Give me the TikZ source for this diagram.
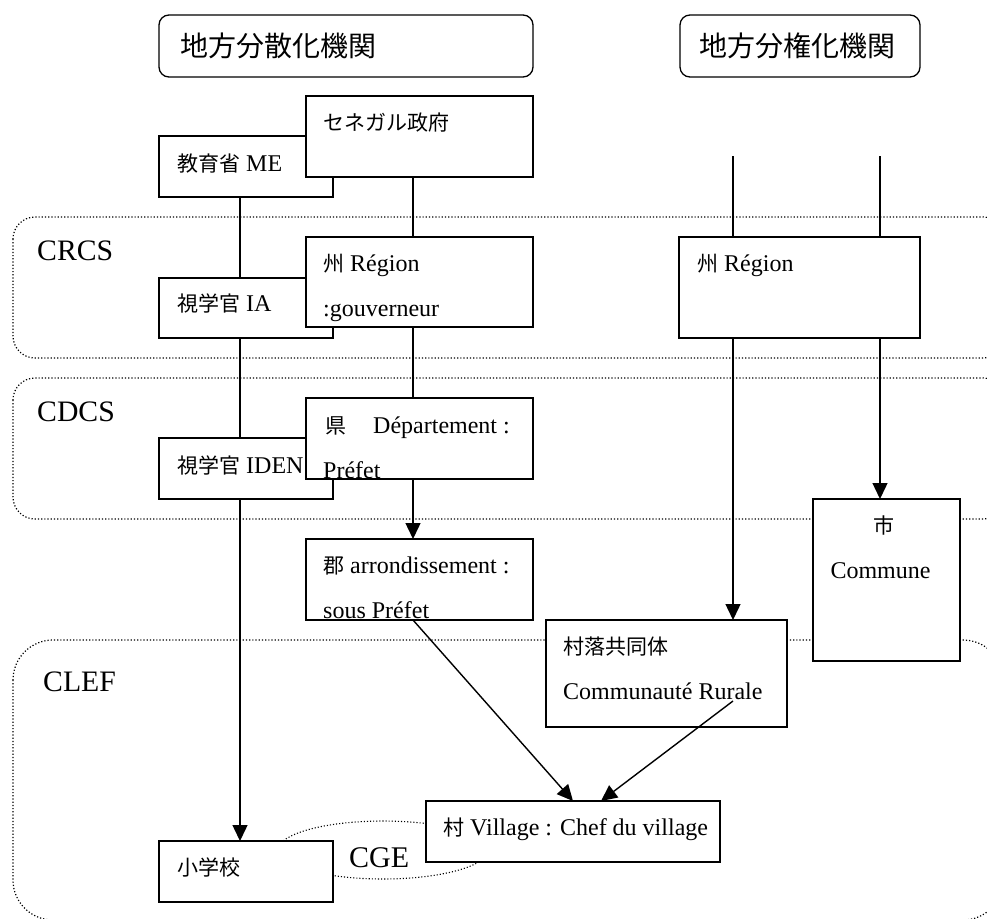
\documentclass[tikz,border=0pt]{standalone}
\usepackage{fontspec}
\setmainfont{Liberation Serif}
\newfontfamily\cjk[Scale=0.875]{Noto Sans CJK JP}
\newfontfamily\cjkh{Noto Sans CJK JP}
\usetikzlibrary{arrows.meta,calc}
\begin{document}
\begin{tikzpicture}[x=1pt,y=-1pt,
  box/.style={draw,line width=1.3pt,fill=white,inner sep=0pt,outer sep=0pt,anchor=north west},
  hdr/.style={draw,line width=1.3pt,rounded corners=10pt,inner sep=0pt,outer sep=0pt,anchor=north west},
  txt/.style={anchor=base west,inner sep=0pt,font=\fontsize{24}{28}\selectfont},
  txtc/.style={anchor=base,inner sep=0pt,font=\fontsize{24}{28}\selectfont},
  htxt/.style={inner sep=0pt,font=\fontsize{28}{32}\selectfont\cjkh},
  lvl/.style={anchor=base west,inner sep=0pt,font=\fontsize{29.7}{34}\selectfont},
  region/.style={dotted,line width=1.2pt},
  conn/.style={line width=1.4pt},
  arr/.style={line width=1.4pt,-{Triangle[length=16pt,width=15pt]}},
]
\useasboundingbox (0,0) rectangle (987,918);
\begin{scope}
\clip (0,0) rectangle (987,918);
% level regions
\draw[region,rounded corners=22pt] (13,217) rectangle (1005,358);
\draw[region,rounded corners=22pt] (13,378) rectangle (1005,519);
\draw[region,rounded corners=40pt] (13,640) rectangle (1003,920);
% CGE ellipse
\draw[region,line width=1.1pt] (383,850) ellipse [x radius=105, y radius=29];
\end{scope}

% header boxes
\node[hdr,minimum width=374pt,minimum height=62pt] (h1) at (159,15) {};
\node[hdr,minimum width=240pt,minimum height=62pt] (h2) at (680,15) {};
\node[htxt,anchor=base west] (h1t) at ($(h1.north west)+(21,41)$) {地方分散化機関};
\node[htxt,anchor=base] (h2t) at ($(h2.north)+(-3,41)$) {地方分権化機関};

% boxes (drawing order matters for overlaps)
\node[box,minimum width=174pt,minimum height=61pt] (me) at (159,136) {};
\node[box,minimum width=227pt,minimum height=81pt] (sen) at (306,96) {};
\node[box,minimum width=174pt,minimum height=60pt] (ia) at (159,278) {};
\node[box,minimum width=227pt,minimum height=90pt] (regl) at (306,237) {};
\node[box,minimum width=174pt,minimum height=61pt] (iden) at (159,438) {};
\node[txt] (ident) at ($(iden.north west)+(18,35)$) {{\cjk 視学官} IDEN};
\node[box,minimum width=227pt,minimum height=81pt] (dep) at (306,398) {};
\node[box,minimum width=227pt,minimum height=81pt] (arr) at (306,539) {};
\node[box,minimum width=241pt,minimum height=101pt] (regr) at (679,237) {};
\node[box,minimum width=147pt,minimum height=162pt] (com) at (813,499) {};
\node[box,minimum width=241pt,minimum height=107pt] (cr) at (546,620) {};
\node[box,minimum width=294pt,minimum height=61pt] (vil) at (426,801) {};
\node[box,minimum width=174pt,minimum height=61pt] (sch) at (159,841) {};

% box texts
\node[txt] (met) at ($(me.north west)+(18,35)$) {{\cjk 教育省} ME};
\node[txt] (sent) at ($(sen.north west)+(17,34)$) {\cjk セネガル政府};
\node[txt] (iat) at ($(ia.north west)+(18,33)$) {{\cjk 視学官} IA};
\node[txt] (reglt1) at ($(regl.north west)+(17,34)$) {{\cjk 州} Région};
\node[txt] (reglt2) at ($(regl.north west)+(17,79)$) {:gouverneur};
\node[txt] (dept1) at ($(dep.north west)+(19,35)$) {{\cjk 県}\hspace{27pt}Département :};
\node[txt] (dept2) at ($(dep.north west)+(17,80)$) {Préfet};
\node[txt] (arrt1) at ($(arr.north west)+(17,34)$) {{\cjk 郡} arrondissement :};
\node[txt] (arrt2) at ($(arr.north west)+(17,79)$) {sous Préfet};
\node[txt] (regrt) at ($(regr.north west)+(18,34)$) {{\cjk 州} Région};
\node[txtc] (comt1) at ($(com.north)+(-3,34)$) {\cjk 市};
\node[txtc] (comt2) at ($(com.north)+(-6,79)$) {Commune};
\node[txt] (crt1) at ($(cr.north west)+(17,34)$) {\cjk 村落共同体};
\node[txt] (crt2) at ($(cr.north west)+(17,79)$) {Communauté Rurale};
\node[txt] (vilt) at ($(vil.north west)+(17,34)$) {{\cjk 村} Village : Chef du village};
\node[txt] (scht) at ($(sch.north west)+(18,34)$) {\cjk 小学校};

% level labels
\node[lvl] (crcs) at (37,260) {CRCS};
\node[lvl] (cdcs) at (37,421) {CDCS};
\node[lvl] (clef) at (43,691) {CLEF};
\node[lvl,font=\fontsize{30}{34}\selectfont] (cge) at (349,867) {CGE};

% helper coordinates
\coordinate (xl) at (240,0);
\coordinate (xm) at (413,0);
\coordinate (xa) at (733,0);
\coordinate (xb) at (880,0);
\coordinate (ta) at (733,156);
\coordinate (tb) at (880,156);
\coordinate (crin) at ($(cr.north west)+(187,81)$);

% connectors
\draw[conn] (me.south -| xl) -- (ia.north -| xl);
\draw[conn] (ia.south -| xl) -- (iden.north -| xl);
\draw[arr] (iden.south -| xl) -- (sch.north -| xl);
\draw[conn] (sen.south -| xm) -- (regl.north -| xm);
\draw[conn] (regl.south -| xm) -- (dep.north -| xm);
\draw[arr] (dep.south -| xm) -- (arr.north -| xm);
\draw[arr] (arr.south -| xm) -- ($(vil.north west)+(147,0)$);
\draw[conn] (ta) -- (regr.north -| xa);
\draw[conn] (tb) -- (regr.north -| xb);
\draw[arr] (regr.south -| xa) -- (cr.north -| xa);
\draw[arr] (regr.south -| xb) -- (com.north -| xb);
\draw[arr] (crin) -- ($(vil.north west)+(175,0)$);
\end{tikzpicture}
\end{document}
